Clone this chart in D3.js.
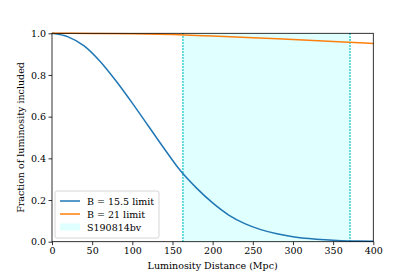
<!DOCTYPE html>
<html>
<head>
<meta charset="utf-8">
<script src="https://cdn.jsdelivr.net/npm/d3@7"></script>
<style>
  body { margin: 0; background: #fff; }
  text { font-family: "DejaVu Serif", serif; fill: #000; }
</style>
</head>
<body>
<script>
"use strict";

// figure size
var width = 415;
var height = 277;

// data (distance in Mpc, fraction included)
var distances = [0, 20, 40, 60, 80, 100, 120, 140, 160, 180, 200, 220, 240, 260, 280, 300, 320, 340, 360, 380, 400];
var bright = [1.0, 0.983, 0.94, 0.865, 0.77, 0.665, 0.555, 0.445, 0.34, 0.257, 0.186, 0.128, 0.087, 0.058, 0.038, 0.024, 0.015, 0.009, 0.005, 0.003, 0.002];
var faintDist = [0, 50, 100, 150, 200, 250, 300, 350, 400];
var faint = [1.0, 0.9995, 0.998, 0.994, 0.987, 0.979, 0.970, 0.961, 0.951];
var eventRange = [163, 371];
var xTicks = [0, 50, 100, 150, 200, 250, 300, 350, 400];
var yTicks = [0, 0.2, 0.4, 0.6, 0.8, 1.0];
var legendNames = ["B = 15.5 limit", "B = 21 limit", "S190814bv"];

var margin = {left: 52, right: 415 - 373.3, top: 33.3, bottom: 277 - 241.7};

var svg = d3.select("body")
  .append("svg")
  .attr("width", width)
  .attr("height", height);

var x = d3.scaleLinear().domain([0, 400]).range([margin.left, width - margin.right]);
var y = d3.scaleLinear().domain([0, 1]).range([height - margin.bottom, margin.top]);

var g = svg.append("g");

// shaded event range
g.append("rect")
  .attr("x", x(eventRange[0]))
  .attr("y", y(1))
  .attr("width", x(eventRange[1]) - x(eventRange[0]))
  .attr("height", y(0) - y(1))
  .attr("fill", "#e0ffff");

g.selectAll("line.edge")
  .data(eventRange)
  .enter()
  .append("line")
  .attr("class", "edge")
  .attr("x1", d => x(d)).attr("x2", d => x(d))
  .attr("y1", y(0)).attr("y2", y(1))
  .attr("stroke", "#00bfbf")
  .attr("stroke-width", 1.5)
  .attr("stroke-dasharray", "1.4 1.6");

var line = d3.line().curve(d3.curveMonotoneX);

g.append("path")
  .attr("d", line(distances.map((d, i) => [x(d), y(bright[i])])))
  .attr("fill", "none")
  .attr("stroke", "#1f77b4")
  .attr("stroke-width", 1.5);

g.append("path")
  .attr("d", line(faintDist.map((d, i) => [x(d), y(faint[i])])))
  .attr("fill", "none")
  .attr("stroke", "#ff7f0e")
  .attr("stroke-width", 1.5);

// axes
var xAxis = svg.append("g")
  .attr("transform", "translate(0," + y(0) + ")")
  .call(d3.axisBottom(x).tickValues(xTicks).tickSize(3.5).tickPadding(2.5).tickFormat(d3.format("d")));

var yAxis = svg.append("g")
  .attr("transform", "translate(" + x(0) + ",0)")
  .call(d3.axisLeft(y).tickValues(yTicks).tickSize(3.5).tickPadding(2.5).tickFormat(d3.format(".1f")));

[xAxis, yAxis].forEach(a => {
  a.select(".domain").remove();
  a.selectAll("line").attr("stroke", "#000").attr("stroke-width", 0.8);
  a.selectAll("text").attr("font-family", "DejaVu Serif").attr("font-size", 9.5).attr("fill", "#000");
});

// frame
svg.append("rect")
  .attr("x", x(0))
  .attr("y", y(1))
  .attr("width", x(400) - x(0))
  .attr("height", y(0) - y(1))
  .attr("fill", "none")
  .attr("stroke", "#000")
  .attr("stroke-width", 0.8);

svg.append("text")
  .attr("x", (x(0) + x(400)) / 2)
  .attr("y", 269)
  .attr("text-anchor", "middle")
  .attr("font-size", 9.5)
  .text("Luminosity Distance (Mpc)");

svg.append("text")
  .attr("transform", "translate(24," + (y(0) + y(1)) / 2 + ") rotate(-90)")
  .attr("text-anchor", "middle")
  .attr("font-size", 9.5)
  .text("Fraction of luminosity included");

// legend
var lg = svg.append("g").attr("transform", "translate(55,191)");
lg.append("rect")
  .attr("width", 104)
  .attr("height", 47)
  .attr("rx", 2)
  .attr("fill", "#fff")
  .attr("fill-opacity", 0.8)
  .attr("stroke", "#ccc")
  .attr("stroke-width", 0.8);

var colors = ["#1f77b4", "#ff7f0e", "#e0ffff"];
legendNames.forEach((name, i) => {
  var cy = 10 + i * 13;
  if (i < 2) {
    lg.append("line")
      .attr("x1", 5).attr("x2", 25)
      .attr("y1", cy).attr("y2", cy)
      .attr("stroke", colors[i])
      .attr("stroke-width", 1.5);
  } else {
    lg.append("rect")
      .attr("x", 5).attr("y", cy - 3.5)
      .attr("width", 20).attr("height", 7)
      .attr("fill", colors[i]);
  }
  lg.append("text")
    .attr("x", 32)
    .attr("y", cy + 3.5)
    .attr("font-size", 9.5)
    .text(name);
});
</script>
</body>
</html>
